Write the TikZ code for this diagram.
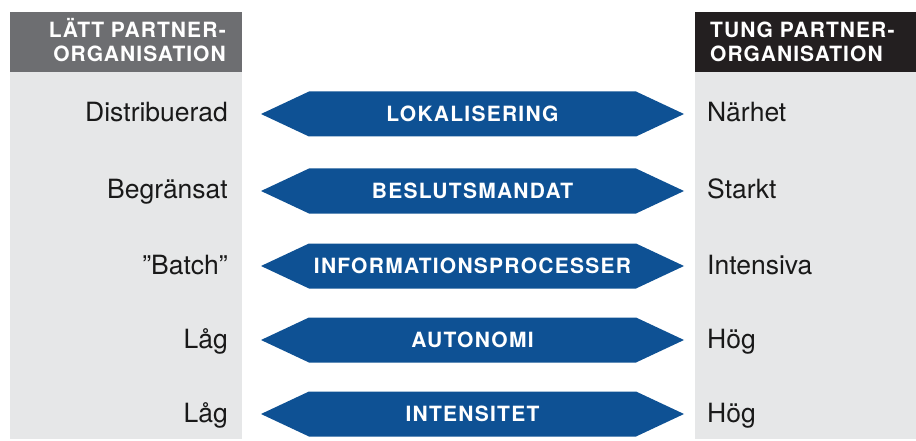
\documentclass[tikz,border=0pt]{standalone}
\usepackage{fontspec}
\setmainfont{TeX Gyre Heros}
\definecolor{panelgray}{RGB}{230,231,232}
\definecolor{headgray}{RGB}{109,110,113}
\definecolor{headblack}{RGB}{35,31,32}
\definecolor{arrowblue}{RGB}{14,81,148}
\tikzset{
  headtext/.style={text=white, inner sep=0pt,
    font=\fontsize{21}{24.5}\selectfont\bfseries\addfontfeature{LetterSpace=5}},
  sidelabel/.style={text=black!90, inner sep=0pt, font=\fontsize{26.5}{30}\selectfont},
  arrowlabel/.style={text=white, inner sep=0pt, anchor=base,
    font=\fontsize{21}{24}\selectfont\bfseries\addfontfeature{LetterSpace=6}},
  arrowbody/.style={fill=arrowblue}
}
\begin{document}
\begin{tikzpicture}[x=1pt,y=-1pt]
\useasboundingbox (0,0) rectangle (916,441);
% side panels
\fill[panelgray] (10,72) rectangle (242,439);
\fill[headgray] (10,12) rectangle (242,72);
\fill[panelgray] (695,72) rectangle (916,439);
\fill[headblack] (695,12) rectangle (916,72);
% column headings (base anchor sits on the last line)
\node[headtext, anchor=base east, align=right] (lefthead) at (226,62) {LÄTT PARTNER-\\ORGANISATION};
\node[headtext, anchor=base west, align=left] (righthead) at (710,62) {TUNG PARTNER-\\ORGANISATION};
% double-headed arrows with their labels
\foreach \y/\name/\lt/\rt [count=\i] in {
  114/LOKALISERING/Distribuerad/Närhet,
  191/BESLUTSMANDAT/Begränsat/Starkt,
  266/INFORMATIONSPROCESSER/”Batch”/Intensiva,
  340/AUTONOMI/Låg/Hög,
  414/INTENSITET/Låg/Hög}{
  \fill[arrowbody] (261,\y) -- (309,\y-22.5) -- (636,\y-22.5) -- (684,\y)
    -- (636,\y+22.5) -- (309,\y+22.5) -- cycle;
  \node[arrowlabel] (mid\i) at (472.5,\y+7.5) {\name};
  \node[sidelabel, anchor=base east] (left\i) at (228,\y+8) {\lt};
  \node[sidelabel, anchor=base west] (right\i) at (707,\y+8) {\rt};
}
\end{tikzpicture}
\end{document}
